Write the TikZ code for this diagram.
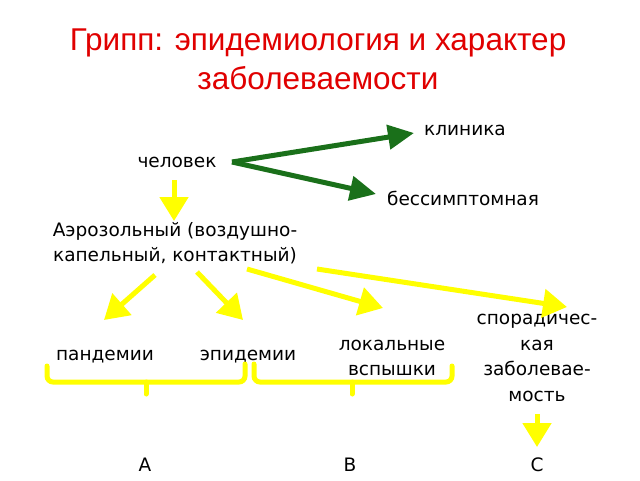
\documentclass[tikz,border=0pt]{standalone}
\usepackage{fontspec}
\setmainfont{DejaVu Sans}
\newfontfamily\titlefont{Liberation Sans}
\usetikzlibrary{arrows.meta}
\definecolor{ttl}{HTML}{E00000}
\definecolor{grn}{HTML}{1A701A}
\definecolor{ylw}{HTML}{FFFF00}
\tikzset{
  ttlnode/.style={font=\titlefont\fontsize{31.5}{36}\selectfont, text=ttl, inner sep=0pt},
  lbl/.style={font=\fontsize{18.5}{25.5}\selectfont, inner sep=0pt, align=center},
  garrow/.style={draw=grn, line width=5pt, -{Triangle[length=26pt,width=24pt]}},
  yarrow/.style={draw=ylw, line width=5pt, -{Triangle[length=24pt,width=28pt]}},
  ybrace/.style={draw=ylw, line width=5pt, rounded corners=6pt, line cap=round}
}
\begin{document}
\begin{tikzpicture}[x=1pt,y=-1pt]
\useasboundingbox (0,0) rectangle (640,480);
% title
\node[ttlnode] (t1) at (318,43) {Грипп: эпидемиология и характер};
\node[ttlnode] (t2) at (318,78) {заболеваемости};
% labels
\node[lbl] (chel) at (177,162) {человек};
\node[lbl] (klin) at (465,130) {клиника};
\node[lbl] (bess) at (463,198) {бессимптомная};
\node[lbl] (aero) at (175,243) {Аэрозольный (воздушно-\\капельный, контактный)};
\node[lbl] (pand) at (105,357) {пандемии};
\node[lbl] (epid) at (248,357) {эпидемии};
\node[lbl] (lok) at (392,358) {локальные\\вспышки};
\node[lbl] (spor) at (537,358) {спорадичес-\\кая\\заболевае-\\мость};
\node[lbl] (A) at (145,465) {А};
\node[lbl] (B) at (350,465) {В};
\node[lbl] (C) at (537,465) {С};
% green arrows
\coordinate (g0) at (232,162);
\coordinate (g1) at (414,133);
\coordinate (g2) at (376,194);
\draw[garrow] (g0) -- (g1);
\draw[garrow] (g0) -- (g2);
% yellow arrows
\coordinate (c0) at (174,180);
\coordinate (c1) at (174,221);
\draw[yarrow] (c0) -- (c1);
\coordinate (p0) at (155,275);
\coordinate (p1) at (104,320);
\draw[yarrow] (p0) -- (p1);
\coordinate (e0) at (197,272);
\coordinate (e1) at (243,320);
\draw[yarrow] (e0) -- (e1);
\coordinate (l0) at (247,269);
\coordinate (l1) at (383,308);
\draw[yarrow] (l0) -- (l1);
\coordinate (s0) at (317,269);
\coordinate (s1) at (567,307);
\draw[yarrow] (s0) -- (s1);
\coordinate (m0) at (537,414);
\coordinate (m1) at (537,447);
\draw[yarrow] (m0) -- (m1);
% braces
\draw[ybrace] (47,366) -- (47,382) -- (245,382) -- (245,364);
\draw[ybrace] (146,382) -- (146,394);
\draw[ybrace] (254,364) -- (254,382) -- (452,382) -- (452,366);
\draw[ybrace] (352,382) -- (352,394);
\end{tikzpicture}
\end{document}
